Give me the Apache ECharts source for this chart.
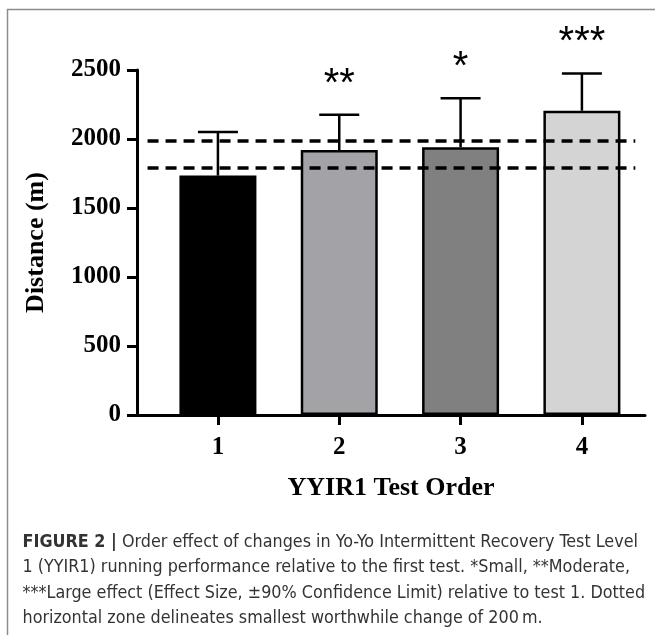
<!DOCTYPE html>
<html>
<head>
<meta charset="utf-8">
<script src="https://cdn.jsdelivr.net/npm/echarts@6/dist/echarts.min.js"></script>
<style>
  html, body { margin: 0; padding: 0; background: #fff; }
  #chart { width: 655px; height: 635px; }
</style>
</head>
<body>
<div id="chart"></div>
<script>
// test order (category) and its position on the x scale
const categories = ['1', '2', '3', '4'];
const catPos = [1, 2, 3, 4];
// mean distance (m) and top of error bar (mean + SD)
const means = [1735, 1920, 1940, 2205];
const upperErr = [2051, 2176, 2296, 2475];
// effect size marks above bars
const marks = ['', '**', '*', '***'];
// smallest worthwhile change zone (dashed lines)
const zoneLimits = [1795, 1985];
const zoneSpan = [0.42, 4.44];
const barColors = ['#000000', '#a3a3a7', '#808080', '#d4d4d4'];

const captionLines = [
  ['FIGURE 2 |', ' Order effect of changes in Yo-Yo Intermittent Recovery Test Level'],
  ['', '1 (YYIR1) running performance relative to the first test. *Small, **Moderate,'],
  ['', '***Large effect (Effect Size, \u00b190% Confidence Limit) relative to test 1. Dotted'],
  ['', 'horizontal zone delineates smallest worthwhile change of 200\u2009m.']
];

const serif = "'Liberation Serif', 'Times New Roman', serif";
const capFont = "'Liberation Sans Narrow', 'DejaVu Sans Condensed', 'Liberation Sans', sans-serif";

const chart = echarts.init(document.getElementById('chart'));

const graphics = [
  {
    type: 'rect',
    shape: {x: 7.5, y: 9.5, width: 700, height: 700},
    style: {fill: 'none', stroke: '#8c8c8c', lineWidth: 1.5},
    silent: true
  }
];
captionLines.forEach((line, i) => {
  graphics.push({
    type: 'text',
    left: 22.5,
    top: 533 + i * 25.6,
    style: {
      text: (line[0] ? '{b|' + line[0] + '}' : '') + '{n|' + line[1] + '}',
      rich: {
        b: {fontFamily: capFont, fontSize: 17.8, fontWeight: 'bold', fill: '#333'},
        n: {fontFamily: capFont, fontSize: 17.8, fill: '#333'}
      }
    }
  });
});

const option = {
  animation: false,
  grid: {left: 137, right: 10, top: 70, bottom: 220},
  xAxis: {
    type: 'value',
    min: 0.333,
    max: 4.52,
    name: 'YYIR1 Test Order',
    nameLocation: 'middle',
    nameGap: 60,
    nameTextStyle: {fontFamily: serif, fontWeight: 'bold', fontSize: 26, color: '#000'},
    splitLine: {show: false},
    axisLine: {show: true, lineStyle: {color: '#000', width: 3}},
    axisTick: {show: true, inside: false, length: 10, lineStyle: {color: '#000', width: 3}, customValues: catPos},
    axisLabel: {
      customValues: catPos,
      margin: 20,
      fontFamily: serif, fontWeight: 'bold', fontSize: 25, color: '#000',
      formatter: v => categories[catPos.indexOf(v)] || ''
    }
  },
  yAxis: {
    type: 'value',
    min: 0,
    max: 2500,
    interval: 500,
    name: 'Distance (m)',
    nameLocation: 'middle',
    nameRotate: 90,
    nameGap: 88,
    nameTextStyle: {fontFamily: serif, fontWeight: 'bold', fontSize: 26, color: '#000'},
    splitLine: {show: false},
    axisLine: {show: true, lineStyle: {color: '#000', width: 3}},
    axisTick: {show: true, inside: false, length: 10, lineStyle: {color: '#000', width: 3}},
    axisLabel: {
      margin: 16, fontFamily: serif, fontWeight: 'bold', fontSize: 25, color: '#000',
      formatter: v => String(v)
    }
  },
  graphic: graphics,
  series: [
    {
      type: 'bar',
      barWidth: 77,
      data: catPos.map((x, i) => ({
        value: [x, means[i]],
        itemStyle: {color: barColors[i], borderColor: '#000', borderWidth: 2.5}
      })),
      z: 2
    },
    {
      type: 'custom',
      data: catPos.map((x, i) => [x, means[i], upperErr[i]]),
      z: 3,
      renderItem: (params, api) => {
        const base = api.coord([api.value(0), api.value(1)]);
        const top = api.coord([api.value(0), api.value(2)]);
        const style = {stroke: '#000', lineWidth: 2.5};
        return {
          type: 'group',
          children: [
            {type: 'line', shape: {x1: base[0], y1: base[1], x2: top[0], y2: top[1]}, style},
            {type: 'line', shape: {x1: top[0] - 20, y1: top[1], x2: top[0] + 20, y2: top[1]}, style},
            {
              type: 'text',
              x: top[0],
              y: top[1] - 30,
              style: {
                text: marks[params.dataIndex],
                fontFamily: "'Liberation Sans', Arial, sans-serif",
                fontSize: 40,
                fill: '#000',
                align: 'center',
                verticalAlign: 'middle'
              }
            }
          ]
        };
      }
    },
    {
      type: 'line',
      data: [],
      z: 5,
      markLine: {
        silent: true,
        symbol: 'none',
        label: {show: false},
        lineStyle: {color: '#000', width: 3.5, type: [11, 7]},
        data: zoneLimits.map(v => [
          {coord: [zoneSpan[0], v]},
          {coord: [zoneSpan[1], v]}
        ])
      }
    }
  ]
};

chart.setOption(option);
</script>
</body>
</html>
